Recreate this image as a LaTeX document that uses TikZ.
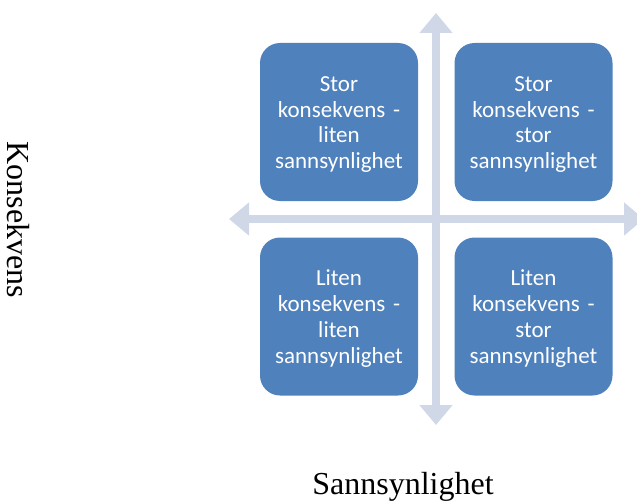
\documentclass[tikz,border=0pt]{standalone}
\usepackage{fontspec}
\setmainfont{Liberation Serif}
\newfontfamily\boxfont{Carlito}
\usetikzlibrary{arrows.meta}
\definecolor{boxblue}{HTML}{4F81BD}
\definecolor{axisgray}{HTML}{D0D8E8}
\tikzset{
  quad/.style={fill=boxblue, draw=none, rounded corners=20pt, minimum width=158pt, minimum height=158pt,
    text=white, align=center, text width=154pt, inner sep=0pt,
    font=\boxfont\fontsize{23}{25.7}\selectfont,
    execute at begin node={\rule{0pt}{20pt}}},
  axis/.style={draw=axisgray, line width=8pt, -{Triangle[width=32pt,length=20pt]}},
  axislabel/.style={font=\fontsize{32}{36}\selectfont, inner sep=0pt}
}
\begin{document}
\begin{tikzpicture}[x=1pt,y=-1pt]
\useasboundingbox (0,0) rectangle (637,503);
\coordinate (vtop) at (436,13);
\coordinate (vbot) at (436,425);
\coordinate (hleft) at (229,219);
\coordinate (hright) at (644,219);
\coordinate (center) at (436,219);
\draw[axis] (center) -- (vtop);
\draw[axis] (center) -- (vbot);
\draw[axis] (center) -- (hleft);
\draw[axis] (center) -- (hright);
\node[quad] (tl) at (339,122) {Stor\\konsekvens -\\liten\\sannsynlighet};
\node[quad] (tr) at (533.5,122) {Stor\\konsekvens -\\stor\\sannsynlighet};
\node[quad] (bl) at (339,316.5) {Liten\\konsekvens -\\liten\\sannsynlighet};
\node[quad] (br) at (533.5,316.5) {Liten\\konsekvens -\\stor\\sannsynlighet};
\node[axislabel, rotate=-90] (ylab) at (18,220) {Konsekvens};
\node[axislabel, anchor=base] (xlab) at (403,494) {Sannsynlighet};
\end{tikzpicture}
\end{document}
